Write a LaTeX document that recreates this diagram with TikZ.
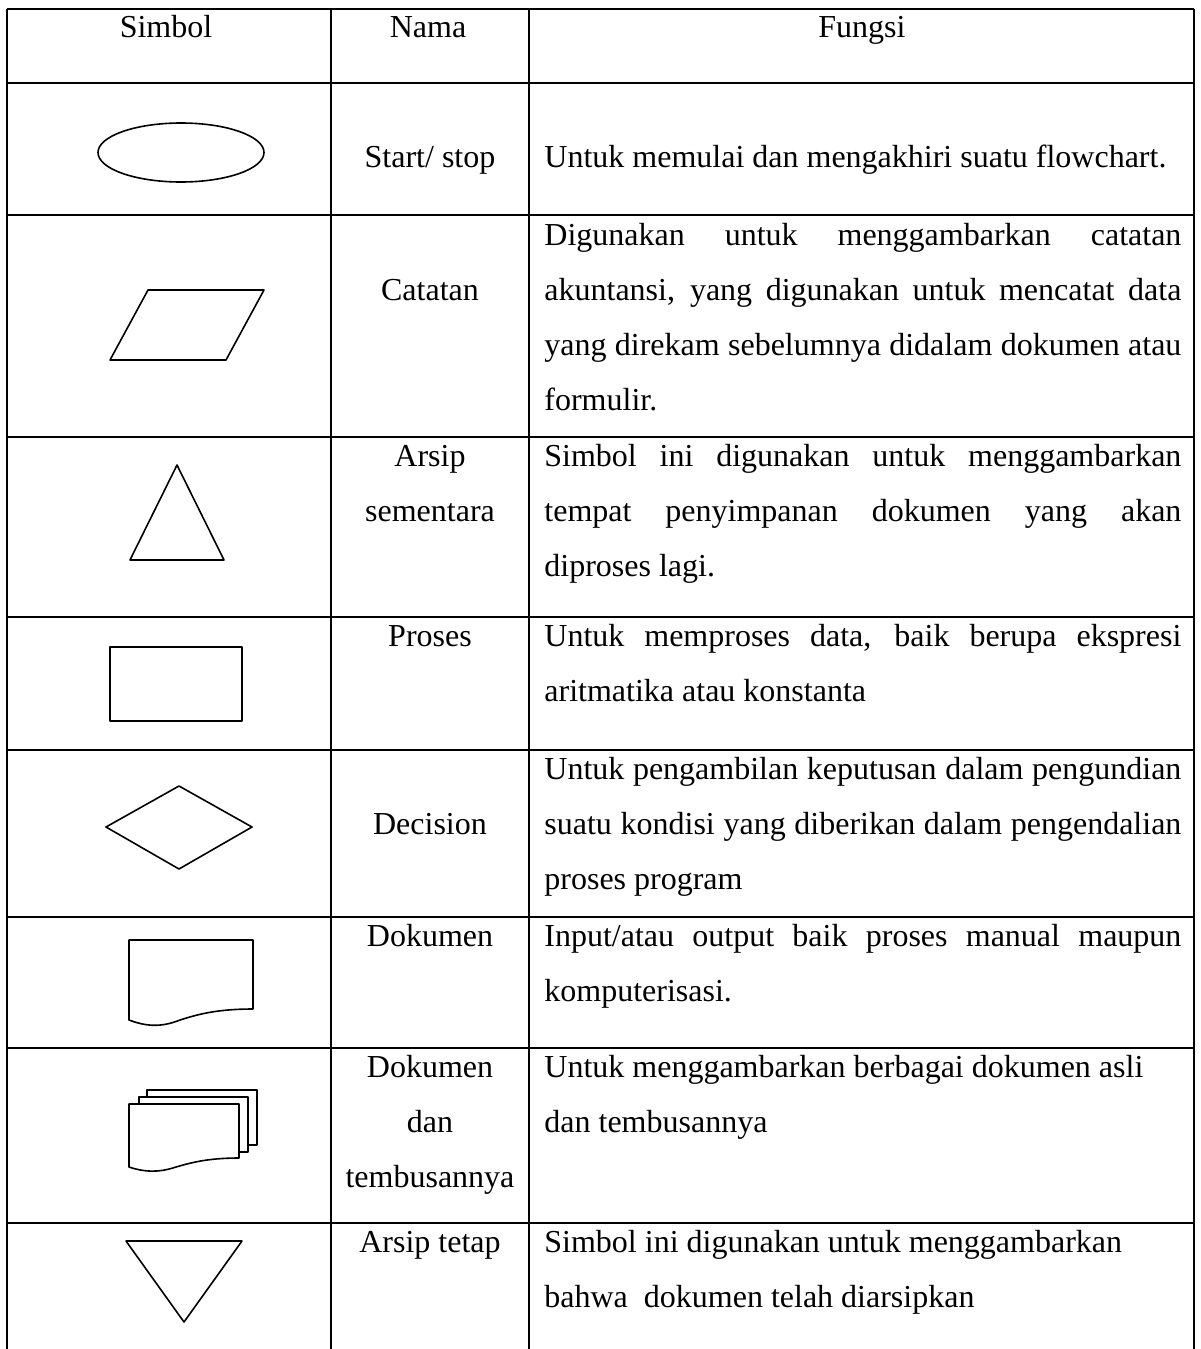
\documentclass[tikz,border=0pt]{standalone}
\usepackage{fontspec}
\setmainfont{Liberation Serif}
\newcommand{\cellfont}{\fontsize{16pt}{27.6pt}\selectfont}
\newcommand{\fline}[1]{\makebox[318.5pt][s]{#1}}
\tikzset{
  gridline/.style={line width=1pt},
  symline/.style={line width=0.8pt, line join=round},
  mid/.style={anchor=base, inner sep=0pt, font=\cellfont},
  lft/.style={anchor=base west, inner sep=0pt, font=\cellfont},
}
\begin{document}
\begin{tikzpicture}[x=0.5pt,y=-0.5pt]
            \useasboundingbox (0,0) rectangle (1200,1349);
            \draw[gridline] (7,9) -- (7,1349);
            \draw[gridline] (331,9) -- (331,1349);
            \draw[gridline] (529,9) -- (529,1349);
            \draw[gridline] (1194,9) -- (1194,1349);
            \draw[gridline] (7,9) -- (1194,9);
            \draw[gridline] (7,83) -- (1194,83);
            \draw[gridline] (7,215) -- (1194,215);
            \draw[gridline] (7,437) -- (1194,437);
            \draw[gridline] (7,617) -- (1194,617);
            \draw[gridline] (7,750) -- (1194,750);
            \draw[gridline] (7,917) -- (1194,917);
            \draw[gridline] (7,1048) -- (1194,1048);
            \draw[gridline] (7,1223) -- (1194,1223);

            \node[mid] (hsimbol) at (166,37) {Simbol};
            \node[mid] (hnama) at (428,37) {Nama};
            \node[mid] (hfungsi) at (862,37) {Fungsi};

            % simbol
            \draw[symline] (181,152.5) ellipse [x radius=41.5pt, y radius=14.75pt];
            \draw[symline] (148,290) -- (264,290) -- (226,360) -- (110,360) -- cycle;
            \draw[symline] (177,465) -- (224,560) -- (130,560) -- cycle;
            \draw[symline] (110,647) rectangle (242,721);
            \draw[symline] (106,827) -- (179,786) -- (252,827) -- (179,869) -- cycle;
            \draw[symline] (129,1020) -- (129,940) -- (253,940) -- (253,1009)
                .. controls (215,1009) and (196,1015) .. (180,1020)
                .. controls (160,1028) and (145,1026) .. (129,1020) -- cycle;
            \draw[symline] (147,1097) -- (147,1090) -- (257,1090) -- (257,1145) -- (248,1145);
            \draw[symline] (139,1104) -- (139,1097) -- (248,1097) -- (248,1152) -- (239,1152);
            \draw[symline] (129,1167) -- (129,1104) -- (239,1104) -- (239,1158)
                .. controls (207,1158) and (190,1163) .. (176,1167)
                .. controls (158,1173) and (144,1172) .. (129,1167) -- cycle;
            \draw[symline] (126,1241) -- (242,1241) -- (184,1322) -- cycle;

            % nama
            \node[mid] (nstart) at (430,167) {Start/ stop};
            \node[mid] (ncatatan) at (430,300) {Catatan};
            \node[mid] (narsip) at (430,466) {Arsip};
            \node[mid] (narsipb) at (430,521) {sementara};
            \node[mid] (nproses) at (430,646) {Proses};
            \node[mid] (ndecision) at (430,834) {Decision};
            \node[mid] (ndok) at (430,946) {Dokumen};
            \node[mid] (ndoks) at (430,1077) {Dokumen};
            \node[mid] (ndoksb) at (430,1132) {dan};
            \node[mid] (ndoksc) at (430,1187) {tembusannya};
            \node[mid] (ntetap) at (430,1252) {Arsip tetap};

            % fungsi
            \node[lft] (fstart) at (544,167) {Untuk memulai dan mengakhiri suatu flowchart.};
            \node[lft] (fcatatan) at (544,245) {\fline{Digunakan untuk menggambarkan catatan}};
            \node[lft] (fcatatanb) at (544,300) {\fline{akuntansi, yang digunakan untuk mencatat data}};
            \node[lft] (fcatatanc) at (544,355) {\fline{yang direkam sebelumnya didalam dokumen atau}};
            \node[lft] (fcatatand) at (544,410) {formulir.};
            \node[lft] (farsip) at (544,466) {\fline{Simbol ini digunakan untuk menggambarkan}};
            \node[lft] (farsipb) at (544,521) {\fline{tempat penyimpanan dokumen yang akan}};
            \node[lft] (farsipc) at (544,576) {diproses lagi.};
            \node[lft] (fproses) at (544,646) {\fline{Untuk memproses data, baik berupa ekspresi}};
            \node[lft] (fprosesb) at (544,701) {aritmatika atau konstanta};
            \node[lft] (fdecision) at (544,779) {\fline{Untuk pengambilan keputusan dalam pengundian}};
            \node[lft] (fdecisionb) at (544,834) {\fline{suatu kondisi yang diberikan dalam pengendalian}};
            \node[lft] (fdecisionc) at (544,889) {proses program};
            \node[lft] (fdok) at (544,946) {\fline{Input/atau output baik proses manual maupun}};
            \node[lft] (fdokb) at (544,1001) {komputerisasi.};
            \node[lft] (fdoks) at (544,1077) {Untuk menggambarkan berbagai dokumen asli};
            \node[lft] (fdoksb) at (544,1132) {dan tembusannya};
            \node[lft] (ftetap) at (544,1252) {Simbol ini digunakan untuk menggambarkan};
            \node[lft] (ftetapb) at (544,1307) {bahwa\ \ dokumen telah diarsipkan};
\end{tikzpicture}
\end{document}
